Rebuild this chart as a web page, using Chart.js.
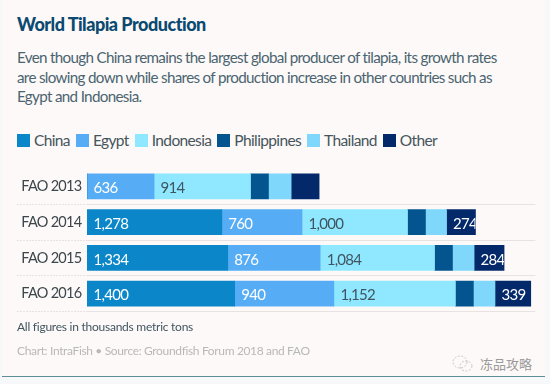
<!DOCTYPE html>
<html>
<head>
<meta charset="utf-8">
<title>World Tilapia Production</title>
<script src="https://cdn.jsdelivr.net/npm/chart.js@4"></script>
<style>
    html, body { margin: 0; padding: 0; }
    body { width: 550px; height: 384px; background: #f6f8fa; position: relative; overflow: hidden; font-family: Lato, sans-serif; }
    #card { position: absolute; left: 2px; top: 0; width: 543px; height: 376px; background: #fdf9f8; border-bottom: 1px solid #5f8f96; }
    #title { position: absolute; left: 17px; top: 13px; font-size: 18px; font-weight: 900; color: #0b4a70; letter-spacing: -0.5px; white-space: nowrap; }
    #subtitle { position: absolute; left: 17px; top: 48px; width: 520px; font-size: 15.2px; line-height: 19.7px; color: #4a6470; letter-spacing: -0.68px; }
    #legend { position: absolute; left: 17px; top: 131px; display: flex; font-size: 15.5px; color: #46555c; line-height: 18px; letter-spacing: -0.63px; }
    #legend div { display: flex; align-items: center; margin-right: 6px; }
    #legend span { display: block; width: 13px; height: 13px; margin-right: 4px; }
    #chart { position: absolute; left: 0; top: 160px; }
    #note { position: absolute; left: 17px; top: 319px; font-size: 12px; color: #3f5560; letter-spacing: -0.25px; }
    #source { position: absolute; left: 17px; top: 343px; font-size: 12px; color: #b8b8b8; letter-spacing: -0.35px; }
    #mark { position: absolute; left: 480px; top: 354px; font-family: "Noto Sans CJK SC"; font-size: 13px; color: #9a9a9a; }
    #icon { position: absolute; left: 452px; top: 354px; }
</style>
</head>
<body>
<div id="card"></div>
<div id="title">World Tilapia Production</div>
<div id="subtitle">Even though China remains the largest global producer of tilapia, its growth rates<br>are slowing down while shares of production increase in other countries such as<br>Egypt and Indonesia.</div>
<div id="legend"></div>
<canvas id="chart" width="550" height="160"></canvas>
<div id="note">All figures in thousands metric tons</div>
<div id="source">Chart: IntraFish • Source: Groundfish Forum 2018 and FAO</div>
<svg id="icon" width="22" height="20" viewBox="0 0 22 20" fill="none" stroke="#c8c8c8" stroke-width="1" stroke-dasharray="2 1.5">
    <ellipse cx="8" cy="8" rx="7" ry="6"></ellipse>
    <ellipse cx="14" cy="12" rx="6" ry="5"></ellipse>
</svg>
<div id="mark">冻品攻略</div>

<script>
const years = ['FAO 2013', 'FAO 2014', 'FAO 2015', 'FAO 2016'];
const seriesNames = ['China', 'Egypt', 'Indonesia', 'Philippines', 'Thailand', 'Other'];
const seriesColors = ['#0a86c9', '#57adf5', '#8fe8ff', '#04548f', '#7fd8fb', '#03296b'];

const china = [0, 1278, 1334, 1400];
const egypt = [636, 760, 876, 940];
const indonesia = [914, 1000, 1084, 1152];
const philippines = [170, 170, 170, 170];
const thailand = [215, 200, 205, 205];
const other = [265, 274, 284, 339];

// 2013 "Other" has no printed number in the original
const chinaLabels = [null, 1278, 1334, 1400];
const egyptLabels = [636, 760, 876, 940];
const indonesiaLabels = [914, 1000, 1084, 1152];
const otherLabels = [null, 274, 284, 339];

const legend = document.getElementById('legend');
seriesNames.forEach((name, i) => {
    const item = document.createElement('div');
    item.innerHTML = `<span style="background:${seriesColors[i]}"></span>${name}`;
    legend.appendChild(item);
});

// tightens canvas text and prints the numbers inside the bars,
// cut off at the bar end like the original
const barLabels = {
    id: 'barLabels',
    beforeDraw(chart) {
        chart.ctx.letterSpacing = '-0.7px';
    },
    afterDatasetsDraw(chart) {
        const ctx = chart.ctx;
        chart.data.datasets.forEach((dataset, i) => {
            if (!dataset.printed) return;
            chart.getDatasetMeta(i).data.forEach((bar, j) => {
                const value = dataset.printed[j];
                if (value === null) return;
                ctx.save();
                ctx.beginPath();
                ctx.rect(bar.base, bar.y - 12.5, bar.x - bar.base, 25);
                ctx.clip();
                ctx.font = '15px Lato';
                ctx.fillStyle = dataset.labelColor;
                ctx.textBaseline = 'middle';
                ctx.fillText(value.toLocaleString('en-US'), bar.base + 6.5, bar.y + 2);
                ctx.restore();
            });
        });
    }
};

new Chart(document.getElementById('chart').getContext('2d'), {
    type: 'bar',
    plugins: [barLabels],
    data: {
        labels: years,
        datasets: [
            { label: 'China', data: china, backgroundColor: seriesColors[0], printed: chinaLabels, labelColor: '#ffffff' },
            { label: 'Egypt', data: egypt, backgroundColor: seriesColors[1], printed: egyptLabels, labelColor: '#ffffff' },
            { label: 'Indonesia', data: indonesia, backgroundColor: seriesColors[2], printed: indonesiaLabels, labelColor: '#3f5560' },
            { label: 'Philippines', data: philippines, backgroundColor: seriesColors[3] },
            { label: 'Thailand', data: thailand, backgroundColor: seriesColors[4] },
            { label: 'Other', data: other, backgroundColor: seriesColors[5], printed: otherLabels, labelColor: '#ffffff' }
        ]
    },
    options: {
        indexAxis: 'y',
        responsive: false,
        animation: false,
        barThickness: 25,
        layout: { padding: { top: 8.5, bottom: 8.5, left: 0, right: 14.6 } },
        plugins: { legend: { display: false }, tooltip: { enabled: false } },
        scales: {
            x: { stacked: true, display: false, min: 0, max: 4250 },
            y: {
                stacked: true,
                afterFit: scale => { scale.width = 87; },
                border: { display: false },
                grid: {
                    offset: true,
                    tickLength: 70,
                    lineWidth: 1,
                    tickBorderDash: [2, 1],
                    color: c => (c.index === 0 || c.index === 4) ? 'transparent' : '#e6e3e2',
                    tickColor: c => (c.index === 0 || c.index === 4) ? 'transparent' : '#e6e3e2'
                },
                ticks: { padding: -64.5, color: '#3c474c', font: { family: 'Lato', size: 14.5 } }
            }
        }
    }
});
</script>
</body>
</html>
